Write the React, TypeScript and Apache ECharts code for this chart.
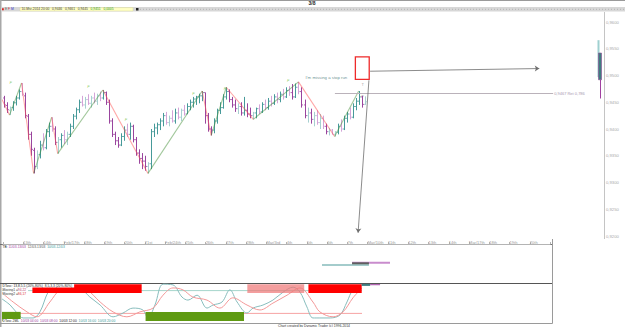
import React, { useEffect, useRef } from 'react';
import * as echarts from 'echarts';

// ---- price bars (4h) ----
const opens = [
  0.9458, 0.9444, 0.9435, 0.9440, 0.9449, 0.9458, 0.9470, 0.9462, 0.9424, 0.9390,
  0.9360, 0.9330, 0.9352, 0.9370, 0.9365, 0.9395, 0.9405, 0.9400, 0.9375, 0.9380,
  0.9388, 0.9380, 0.9390, 0.9405, 0.9424, 0.9436, 0.9450, 0.9445, 0.9455, 0.9448,
  0.9458, 0.9452, 0.9462, 0.9458, 0.9468, 0.9450, 0.9415, 0.9390, 0.9378, 0.9370,
  0.9386, 0.9398, 0.9390, 0.9405, 0.9380, 0.9355, 0.9345, 0.9340, 0.9330, 0.9335,
  0.9395, 0.9402, 0.9408, 0.9415, 0.9425, 0.9412, 0.9420, 0.9415, 0.9430, 0.9422,
  0.9435, 0.9428, 0.9442, 0.9450, 0.9456, 0.9460, 0.9462, 0.9468, 0.9425, 0.9400,
  0.9398, 0.9415, 0.9435, 0.9440, 0.9460, 0.9470, 0.9455, 0.9445, 0.9438, 0.9442,
  0.9430, 0.9435, 0.9428, 0.9425, 0.9430, 0.9438, 0.9432, 0.9446, 0.9440, 0.9452,
  0.9448, 0.9460, 0.9455, 0.9465, 0.9460, 0.9472, 0.9468, 0.9460, 0.9478, 0.9470,
  0.9445, 0.9425, 0.9430, 0.9418, 0.9425, 0.9412, 0.9420, 0.9405, 0.9395, 0.9398,
  0.9390, 0.9394, 0.9405, 0.9400, 0.9420, 0.9428, 0.9422, 0.9442, 0.9452, 0.9460,
  0.9446,
];
const highs = [
  0.9462, 0.9450, 0.9442, 0.9452, 0.9462, 0.9474, 0.9486, 0.9468, 0.9428, 0.9395,
  0.9365, 0.9360, 0.9378, 0.9392, 0.9400, 0.9412, 0.9422, 0.9405, 0.9385, 0.9392,
  0.9398, 0.9395, 0.9410, 0.9428, 0.9440, 0.9455, 0.9462, 0.9460, 0.9465, 0.9462,
  0.9468, 0.9466, 0.9470, 0.9473, 0.9470, 0.9455, 0.9420, 0.9395, 0.9385, 0.9392,
  0.9405, 0.9410, 0.9412, 0.9408, 0.9385, 0.9362, 0.9355, 0.9350, 0.9338, 0.9400,
  0.9410, 0.9412, 0.9420, 0.9430, 0.9432, 0.9425, 0.9435, 0.9438, 0.9440, 0.9438,
  0.9445, 0.9448, 0.9455, 0.9460, 0.9462, 0.9466, 0.9471, 0.9468, 0.9430, 0.9405,
  0.9420, 0.9438, 0.9450, 0.9465, 0.9478, 0.9474, 0.9460, 0.9455, 0.9448, 0.9450,
  0.9460, 0.9448, 0.9440, 0.9432, 0.9440, 0.9446, 0.9450, 0.9455, 0.9458, 0.9462,
  0.9465, 0.9468, 0.9470, 0.9475, 0.9478, 0.9480, 0.9484, 0.9485, 0.9488, 0.9478,
  0.9455, 0.9440, 0.9438, 0.9432, 0.9435, 0.9428, 0.9425, 0.9410, 0.9402, 0.9400,
  0.9396, 0.9410, 0.9418, 0.9425, 0.9432, 0.9440, 0.9448, 0.9458, 0.9471, 0.9462,
  0.9461,
];
const lows = [
  0.9440, 0.9430, 0.9426, 0.9434, 0.9444, 0.9455, 0.9462, 0.9420, 0.9380, 0.9350,
  0.9317, 0.9325, 0.9345, 0.9360, 0.9362, 0.9385, 0.9395, 0.9370, 0.9354, 0.9365,
  0.9372, 0.9370, 0.9385, 0.9400, 0.9418, 0.9430, 0.9442, 0.9438, 0.9445, 0.9440,
  0.9448, 0.9445, 0.9452, 0.9455, 0.9445, 0.9410, 0.9385, 0.9370, 0.9365, 0.9368,
  0.9378, 0.9385, 0.9380, 0.9375, 0.9350, 0.9335, 0.9325, 0.9322, 0.9317, 0.9325,
  0.9385, 0.9390, 0.9398, 0.9405, 0.9408, 0.9405, 0.9412, 0.9410, 0.9418, 0.9415,
  0.9425, 0.9428, 0.9435, 0.9440, 0.9445, 0.9448, 0.9452, 0.9410, 0.9395, 0.9388,
  0.9392, 0.9410, 0.9428, 0.9438, 0.9455, 0.9450, 0.9440, 0.9432, 0.9428, 0.9425,
  0.9425, 0.9422, 0.9420, 0.9418, 0.9420, 0.9428, 0.9430, 0.9435, 0.9436, 0.9442,
  0.9445, 0.9448, 0.9450, 0.9455, 0.9458, 0.9462, 0.9455, 0.9458, 0.9465, 0.9440,
  0.9420, 0.9412, 0.9410, 0.9405, 0.9408, 0.9400, 0.9400, 0.9390, 0.9388, 0.9390,
  0.9386, 0.9390, 0.9395, 0.9398, 0.9412, 0.9418, 0.9420, 0.9435, 0.9445, 0.9440,
  0.9445,
];
const closes = [
  0.9445, 0.9436, 0.9440, 0.9449, 0.9458, 0.9470, 0.9465, 0.9425, 0.9390, 0.9362,
  0.9330, 0.9352, 0.9370, 0.9365, 0.9395, 0.9405, 0.9400, 0.9375, 0.9380, 0.9388,
  0.9380, 0.9390, 0.9405, 0.9424, 0.9436, 0.9450, 0.9445, 0.9455, 0.9448, 0.9458,
  0.9452, 0.9462, 0.9458, 0.9468, 0.9450, 0.9415, 0.9390, 0.9378, 0.9370, 0.9386,
  0.9398, 0.9390, 0.9405, 0.9380, 0.9355, 0.9345, 0.9340, 0.9330, 0.9335, 0.9395,
  0.9402, 0.9408, 0.9415, 0.9425, 0.9412, 0.9420, 0.9415, 0.9430, 0.9422, 0.9435,
  0.9428, 0.9442, 0.9450, 0.9456, 0.9460, 0.9462, 0.9468, 0.9425, 0.9400, 0.9398,
  0.9415, 0.9435, 0.9440, 0.9460, 0.9470, 0.9455, 0.9445, 0.9438, 0.9442, 0.9430,
  0.9435, 0.9428, 0.9425, 0.9430, 0.9438, 0.9432, 0.9446, 0.9440, 0.9452, 0.9448,
  0.9460, 0.9455, 0.9465, 0.9460, 0.9472, 0.9468, 0.9460, 0.9478, 0.9470, 0.9445,
  0.9425, 0.9430, 0.9418, 0.9425, 0.9412, 0.9420, 0.9405, 0.9395, 0.9398, 0.9390,
  0.9394, 0.9405, 0.9400, 0.9420, 0.9428, 0.9422, 0.9442, 0.9452, 0.9460, 0.9446,
  0.9451,
];

// higher-timeframe bar at the right edge: [index, high, low, bodyHigh, bodyLow, tailLow]
const htfBar = [198, 0.9566, 0.9497, 0.9542, 0.9492, 0.9457];

// swing zigzag pivots
const zzIdx = [-0.5, 2, 6, 10, 16, 18, 33, 48, 66, 69, 74, 83, 98, 110, 118];
const zzPrice = [0.9455, 0.9426, 0.9486, 0.9317, 0.9422, 0.9354, 0.9473, 0.9317, 0.9471, 0.9388, 0.9478, 0.9418, 0.9488, 0.9386, 0.9471];

// "F" marks
const fIdx = [2.4, 28.2, 40.7, 63.1, 73.6, 94.6];
const fPrice = [0.9486, 0.9480, 0.9418, 0.9466, 0.9476, 0.9490];

// retracement
const retPrice = 0.9467;
const retRatio = 0.786;
const retFrom = 110.1;
const retTo = 182.6;

// annotation
const noteText = "I'm missing a stop run";
const noteAt = [100.2, 0.9497];
const boxFrom = [116.9, 0.95349];
const boxTo = [121.5, 0.94926];
const arrowRight = [[121.8, 0.9508], [178.0, 0.9513]];
const arrowDown = [[121.4, 0.9491], [117.8, 0.9206]];

// price axis
const priceMin = 0.92;
const priceMax = 0.96;
const priceStep = 0.005;

// day labels of the time axis
const dayLabels = ['', '13th', '14th', 'Feb/17th', '18th', '19th', '20th', '21st', 'Feb/24th', '25th', '26th', '27th', '28th',
  'Mar/3rd', '4th', '5th', '6th', '7th', 'Mar/10th', '11th', '12th', '13th', '14th', 'Mar/17th', '18th', '19th', '20th', ''];

// time band panel: [from, to, level, kind]
const timeBands = [[105.8, 121.4, 46, 0], [115.8, 128.4, 52, 1], [115.8, 121.4, 50.5, 2]];

// oscillator panel
const oscK = [[-0.5, 58], [2.2, 42], [4.5, 21], [6.5, 8], [9.8, 8], [12.1, 24], [14.8, 76], [17.1, 95], [21.1, 95], [25.4, 87],
  [28.7, 63], [32.1, 42], [36.4, 11], [39.7, 21], [43.0, 34], [46.3, 29], [48.0, 8], [50.3, 42], [53.0, 97], [56.3, 95],
  [59.3, 63], [61.3, 55], [64.3, 68], [67.6, 34], [69.6, 42], [72.6, 50], [75.2, 82], [77.6, 50], [80.9, 21], [82.9, 34],
  [86.2, 42], [89.5, 55], [92.9, 76], [96.2, 89], [98.5, 76], [100.8, 37], [102.8, 8], [105.1, 8], [108.5, 8], [111.8, 16],
  [114.1, 50], [116.1, 82], [119.1, 95]];
const oscD = [[-0.5, 74], [3.2, 50], [7.8, 24], [11.1, 11], [15.4, 50], [18.8, 82], [23.1, 89], [27.7, 82], [32.1, 50], [36.4, 24],
  [41.0, 11], [45.3, 24], [49.7, 34], [53.0, 68], [56.3, 87], [59.6, 82], [62.9, 63], [67.6, 55], [71.9, 34], [76.2, 61],
  [80.9, 42], [85.2, 29], [89.5, 47], [94.2, 68], [98.5, 87], [102.8, 50], [105.1, 24], [109.5, 11], [112.8, 24], [116.1, 61],
  [119.1, 87]];
const obLevel = 80;
const osLevel = 20;
const oscEnd = 119.1;
// zones: [from, to, low, high, kind]  kind 0 = red, 1 = light red, 2 = green
const oscZones = [[9.6, 45.9, 74, 97, 0], [81.0, 99.9, 74, 97, 1], [101.3, 119.0, 74, 97, 0], [-0.5, 5.7, 0, 24, 2], [47.2, 79.9, 0, 24, 2]];
const oscTopBands = [[119.0, 121.8, 95, 2], [121.8, 125.1, 95.5, 1]];

const fmt = (v: number) => v.toFixed(4).replace('.', ',');

export default function App() {
  const ref = useRef<HTMLDivElement>(null);
  useEffect(() => {
    document.body.style.margin = '0';
    const chart = echarts.init(ref.current!, null, { renderer: 'svg' });
    const FONT = 'Liberation Sans, Arial, sans-serif';
    const TEAL = '#479a9a', TEAL_L = '#a6d0d0', PURP = '#9a459e', PURP_L = '#d4a4d8';
    const ZZ_RED = '#ff4f4f', ZZ_GREEN = '#438f38';
    const last = closes.length - 1;

    // pale bar = bar that did not extend the previous bar's range in its own direction
    const barData = opens.map((o, i) => {
      const up = closes[i] >= o;
      const pale = i > 0 && (up ? highs[i] <= highs[i - 1] : lows[i] >= lows[i - 1]);
      return [i, o, highs[i], lows[i], closes[i], pale ? 1 : 0];
    });

    const zigzag = zzIdx.slice(1).map((x, k) => ({
      coords: [[zzIdx[k], zzPrice[k]], [x, zzPrice[k + 1]]],
      lineStyle: { color: zzPrice[k + 1] < zzPrice[k] ? ZZ_RED : ZZ_GREEN, width: 1.1 },
    }));

    const bandColors = ['#4a9a9a', '#c98ccd', '#606060'];
    const zoneColors = ['#ff0000', 'rgba(240,120,120,0.72)', '#5f9a12'];

    const line = (x1: number, y1: number, x2: number, y2: number, c: string, w = 1, extra: any = {}) => ({
      type: 'line', shape: { x1, y1, x2, y2 }, style: { stroke: c, lineWidth: w, ...extra }, silent: true,
    });
    const txt = (x: number, y: number, text: string, size: number, fill: string, extra: any = {}) => ({
      type: 'text', x, y, z: 50, silent: true,
      style: { text, fontSize: size, fill, fontFamily: FONT, verticalAlign: 'middle', textVerticalAlign: 'middle', ...extra },
    });

    const graphics: any[] = [
      line(0, 0.5, 625, 0.5, '#9a9a9a'),
      { type: 'rect', shape: { x: 0, y: 0, width: 1.5, height: 327 }, style: { fill: '#a8a8a8' }, silent: true },
      txt(312, 3.2, '3/8', 5, '#222', { fontWeight: 'bold', align: 'center', textAlign: 'center' }),
      { type: 'rect', shape: { x: 1.5, y: 7, width: 623.5, height: 4.5 }, style: { fill: '#d7d7d7' }, silent: true },
      line(140, 9.3, 625, 9.3, '#b5b5b5', 1, { lineDash: [1, 2] }),
      { type: 'rect', shape: { x: 2, y: 8.2, width: 1.8, height: 2 }, style: { fill: '#dd2222' }, silent: true },
      txt(5, 9.3, '{g|E} {r|F} {b|M}', 3.3, '#666', { rich: { g: { fill: '#666', fontSize: 3.3 }, r: { fill: '#c33', fontSize: 3.3 }, b: { fill: '#33c', fontSize: 3.3 } } }),
      { type: 'rect', shape: { x: 20, y: 7.6, width: 113, height: 3.4 }, style: { fill: '#ffffc4', stroke: '#d8d8a0', lineWidth: 0.5 }, silent: true },
      txt(21.5, 9.3,
        `{d|10-Mrz-2014 20:00}   {d|${fmt(opens[last])}}   {d|${fmt(highs[last])}}   {d|${fmt(lows[last])}}   {g|${fmt(closes[last])}}   {g|${fmt(closes[last] - opens[last])}}`,
        3.3, '#333', { rich: { d: { fill: '#444', fontSize: 3.3 }, g: { fill: '#2a9a2a', fontSize: 3.3 } } }),
      { type: 'rect', shape: { x: 136, y: 8, width: 2.5, height: 2.5 }, style: { fill: '#222' }, silent: true },
      line(604.5, 12, 604.5, 239, '#c4c4c4'),
      line(0, 244.5, 552, 244.5, '#707070'),
      line(0, 283.5, 552, 283.5, '#555555'),
      line(552.5, 239, 552.5, 323.5, '#9a9a9a'),
      line(0, 323.5, 552.5, 323.5, '#9a9a9a'),
      txt(2.5, 246.6, '{k|TB:} {p|11/03-13/03}  {d|12/03-13/03}  {t|10/03-12/03}', 3.3, '#222', {
        backgroundColor: '#fff',
        rich: { k: { fill: '#222', fontSize: 3.3 }, p: { fill: '#a040a0', fontSize: 3.3 }, d: { fill: '#555', fontSize: 3.3 }, t: { fill: '#3a9a9a', fontSize: 3.3 } },
      }),
      txt(2.5, 285.8, 'DTosc: 13,8,5,5 (20%-80%)  8,5,3,3 (20%-80%)', 3.3, '#222', { backgroundColor: '#fff', padding: [0.3, 2, 0.3, 0] }),
      txt(2.5, 289.7, '{k|Moving1 =}{t|94,22}', 3.3, '#222', { backgroundColor: '#fff', padding: [0.3, 2, 0.3, 0], rich: { k: { fill: '#333', fontSize: 3.3 }, t: { fill: '#c04070', fontSize: 3.3 } } }),
      txt(2.5, 293.4, '{k|Moving2 =}{t|86,17}', 3.3, '#222', { backgroundColor: '#fff', padding: [0.3, 2, 0.3, 0], rich: { k: { fill: '#333', fontSize: 3.3 }, t: { fill: '#e03030', fontSize: 3.3 } } }),
      txt(2.5, 320.4, '{k|DTosc 2ML}  {p|10/03 04:00}  {p|10/03 08:00}  {k|10/03 12:00}  {t|10/03 16:00}  {t|10/03 20:00}', 3.3, '#222', {
        backgroundColor: '#fff',
        rich: { k: { fill: '#222', fontSize: 3.3 }, p: { fill: '#a040a0', fontSize: 3.3 }, t: { fill: '#3a9a9a', fontSize: 3.3 } },
      }),
      txt(278, 325.5, 'Chart created by Dynamic Trader (c) 1996-2014', 3.4, '#333'),
    ];

    const option: any = {
      animation: false,
      backgroundColor: '#ffffff',
      textStyle: { fontFamily: FONT },
      grid: [
        { left: 2, top: 22, width: 602, height: 214 },
        { left: 0.6, top: 239, width: 549.5, height: 5 },
        { left: 2, top: 244, width: 550, height: 39 },
        { left: 2, top: 283, width: 550, height: 38 },
      ],
      xAxis: [
        { gridIndex: 0, type: 'value', min: -0.5, max: 199.5, show: false },
        {
          gridIndex: 1, type: 'value', min: 0, max: dayLabels.length - 1, interval: 1, position: 'top',
          axisLine: { show: true, lineStyle: { color: '#b4b4b4', width: 1 } },
          axisTick: { show: true, length: 2, inside: false, lineStyle: { color: '#b4b4b4' } },
          axisLabel: { inside: true, align: 'left', fontSize: 4, color: '#9a9a9a', margin: 1, formatter: (v: number) => dayLabels[Math.round(v)] ?? '' },
          splitLine: { show: false },
        },
        { gridIndex: 2, type: 'value', min: -0.5, max: 182.22, show: false },
        { gridIndex: 3, type: 'value', min: -0.5, max: 182.22, show: false },
      ],
      yAxis: [
        {
          gridIndex: 0, type: 'value', position: 'right', min: priceMin, max: priceMax, interval: priceStep,
          axisLine: { show: false }, axisTick: { show: false }, splitLine: { show: false },
          axisLabel: { fontSize: 4.2, color: '#a8a8a8', margin: 2, formatter: (v: number) => fmt(v) },
        },
        { gridIndex: 1, type: 'value', min: 0, max: 1, show: false },
        { gridIndex: 2, type: 'value', min: 0, max: 100, show: false },
        { gridIndex: 3, type: 'value', min: 0, max: 100, show: false },
      ],
      graphic: { elements: graphics },
      series: [
        {
          type: 'custom', name: 'bars', xAxisIndex: 0, yAxisIndex: 0, data: barData, z: 3,
          renderItem: (params: any, api: any) => {
            const i = api.value(0);
            const o = api.value(1), h = api.value(2), l = api.value(3), c = api.value(4), lt = api.value(5);
            const pH = api.coord([i, h]), pL = api.coord([i, l]), pO = api.coord([i, o]), pC = api.coord([i, c]);
            const up = c >= o;
            const color = up ? (lt ? TEAL_L : TEAL) : (lt ? PURP_L : PURP);
            const x = Math.round(pH[0]) + 0.5;
            return {
              type: 'group', children: [
                { type: 'line', shape: { x1: x, y1: pH[1], x2: x, y2: pL[1] }, style: { stroke: color, lineWidth: 1 } },
                { type: 'line', shape: { x1: x - 1.5, y1: pO[1], x2: x, y2: pO[1] }, style: { stroke: color, lineWidth: 0.8 } },
                { type: 'line', shape: { x1: x, y1: pC[1], x2: x + 1.5, y2: pC[1] }, style: { stroke: color, lineWidth: 0.8 } },
              ],
            };
          },
        },
        {
          type: 'custom', name: 'htf', xAxisIndex: 0, yAxisIndex: 0, data: [htfBar], z: 3,
          renderItem: (params: any, api: any) => {
            const i = api.value(0);
            const a = api.coord([i, api.value(1)]), b = api.coord([i, api.value(2)]);
            const c = api.coord([i, api.value(3)]), d = api.coord([i, api.value(4)]), e = api.coord([i, api.value(5)]);
            const x = Math.round(a[0]);
            return {
              type: 'group', children: [
                { type: 'rect', shape: { x: x - 1.5, y: a[1], width: 2, height: b[1] - a[1] }, style: { fill: '#9fd0d0' } },
                { type: 'rect', shape: { x: x - 0.5, y: c[1], width: 3, height: d[1] - c[1] }, style: { fill: '#3f7c80', stroke: '#8a4a90', lineWidth: 0.6 } },
                { type: 'line', shape: { x1: x + 1.5, y1: d[1], x2: x + 1.5, y2: e[1] }, style: { stroke: '#a040a0', lineWidth: 1 } },
              ],
            };
          },
        },
        {
          type: 'lines', name: 'zigzag', coordinateSystem: 'cartesian2d', xAxisIndex: 0, yAxisIndex: 0,
          data: zigzag, z: 4, silent: true,
        },
        {
          type: 'scatter', name: 'fmarks', xAxisIndex: 0, yAxisIndex: 0, z: 5, silent: true,
          symbolSize: 1, itemStyle: { color: 'rgba(0,0,0,0)' },
          data: fIdx.map((x, k) => [x, fPrice[k]]),
          label: { show: true, position: 'inside', formatter: 'F', fontSize: 4, color: '#6fc03a', fontStyle: 'italic' },
          markLine: {
            silent: true, symbol: ['none', 'none'],
            lineStyle: { color: '#bab2ba', width: 1.2, type: 'solid' },
            label: { show: true, position: 'end', distance: 1, formatter: `${fmt(retPrice)} Ret ${String(retRatio).replace('.', ',')}`, fontSize: 4, color: '#a898b0' },
            data: [[{ coord: [retFrom, retPrice] }, { coord: [retTo, retPrice] }]],
          },
        },
        {
          type: 'scatter', name: 'tmarks', xAxisIndex: 0, yAxisIndex: 0, z: 5, silent: true,
          symbolSize: 1, itemStyle: { color: 'rgba(0,0,0,0)' },
          data: [[119.3, 0.94832, 'T'], [119.3, 0.94631, 'n']],
          label: { show: true, position: 'inside', formatter: (p: any) => p.data[2], fontSize: 4, color: '#888' },
        },
        {
          type: 'scatter', name: 'note', xAxisIndex: 0, yAxisIndex: 0, z: 6, silent: true,
          symbolSize: 1, itemStyle: { color: 'rgba(0,0,0,0)' },
          data: [noteAt],
          label: { show: true, position: 'right', distance: 0, formatter: noteText, fontSize: 4.3, color: '#3d7474' },
          markLine: {
            silent: true, symbol: ['none', 'arrow'], symbolSize: 4.5,
            lineStyle: { color: '#6e6e6e', width: 0.8, type: 'solid' },
            label: { show: false },
            data: [
              [{ coord: arrowRight[0] }, { coord: arrowRight[1] }],
              [{ coord: arrowDown[0] }, { coord: arrowDown[1] }],
            ],
          },
          markArea: {
            silent: true,
            itemStyle: { color: 'rgba(255,255,255,0)', borderColor: '#ee2a2a', borderWidth: 1.3 },
            data: [[{ coord: boxFrom }, { coord: boxTo }]],
          },
        },
        {
          type: 'scatter', name: 'last', xAxisIndex: 0, yAxisIndex: 0, silent: true,
          symbolSize: 1, itemStyle: { color: 'rgba(0,0,0,0)' },
          data: [[last, closes[last]]],
          markLine: {
            silent: true, symbol: ['none', 'none'],
            lineStyle: { width: 0, opacity: 0 },
            label: {
              show: true, position: 'end', distance: 1, formatter: fmt(closes[last]),
              backgroundColor: '#ffff00', color: '#222', fontSize: 4.2, padding: [0.6, 6, 0.4, 1],
            },
            data: [{ yAxis: closes[last] }],
          },
        },
        {
          type: 'custom', name: 'timebands', xAxisIndex: 2, yAxisIndex: 2, data: timeBands, z: 3,
          renderItem: (params: any, api: any) => {
            const a = api.coord([api.value(0), api.value(2)]);
            const b = api.coord([api.value(1), api.value(2)]);
            const k = api.value(3);
            const h = k === 0 ? 1 : 2;
            return { type: 'rect', shape: { x: a[0], y: a[1] - h / 2, width: b[0] - a[0], height: h }, style: { fill: bandColors[k] } };
          },
        },
        {
          type: 'line', name: 'ob', xAxisIndex: 3, yAxisIndex: 3, symbol: 'none', silent: true, z: 2,
          lineStyle: { color: '#a6d6cc', width: 1 }, data: [[-0.5, obLevel], [oscEnd, obLevel]],
        },
        {
          type: 'line', name: 'os', xAxisIndex: 3, yAxisIndex: 3, symbol: 'none', silent: true, z: 2,
          lineStyle: { color: '#f6a4a4', width: 1 }, data: [[-0.5, osLevel], [oscEnd, osLevel]],
        },
        {
          type: 'line', name: 'K', xAxisIndex: 3, yAxisIndex: 3, symbol: 'none', smooth: 0.35, silent: true, z: 2,
          lineStyle: { color: '#88bdbd', width: 1 }, data: oscK,
        },
        {
          type: 'line', name: 'D', xAxisIndex: 3, yAxisIndex: 3, symbol: 'none', smooth: 0.35, silent: true, z: 2,
          lineStyle: { color: '#f39898', width: 1 }, data: oscD,
        },
        {
          type: 'custom', name: 'zones', xAxisIndex: 3, yAxisIndex: 3, data: oscZones, z: 3,
          renderItem: (params: any, api: any) => {
            const a = api.coord([api.value(0), api.value(3)]);
            const b = api.coord([api.value(1), api.value(2)]);
            return { type: 'rect', shape: { x: a[0], y: a[1], width: b[0] - a[0], height: b[1] - a[1] }, style: { fill: zoneColors[api.value(4)] } };
          },
        },
        {
          type: 'custom', name: 'topbands', xAxisIndex: 3, yAxisIndex: 3, data: oscTopBands, z: 4,
          renderItem: (params: any, api: any) => {
            const a = api.coord([api.value(0), api.value(2)]);
            const b = api.coord([api.value(1), api.value(2)]);
            const k = api.value(3);
            const h = k === 2 ? 2 : 1;
            return { type: 'rect', shape: { x: a[0], y: a[1] - h / 2, width: b[0] - a[0], height: h }, style: { fill: k === 2 ? '#3f7c80' : '#a040a0' } };
          },
        },
      ],
    };
    chart.setOption(option);
    return () => chart.dispose();
  }, []);
  return <div ref={ref} style={{ width: 625, height: 327, position: 'absolute', left: 0, top: 0, background: '#fff' }} />;
}
